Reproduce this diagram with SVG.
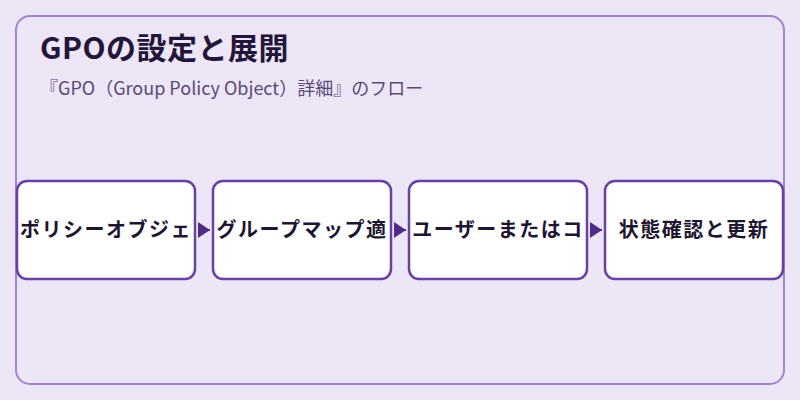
<svg xmlns="http://www.w3.org/2000/svg" width="800" height="400" viewBox="0 0 800 400">
<defs>
<style>
.node rect{fill:#ffffff;stroke:#6a40a3;stroke-width:2.5}
.node text{font-family:"Noto Sans CJK JP","Noto Sans",sans-serif;font-size:20px;font-weight:700;fill:#1e1530;text-anchor:middle;letter-spacing:1.5px}
.conn line{stroke:#4f2d86;stroke-width:2}
</style>
<marker id="ah" viewBox="0 0 12 16" refX="12" refY="8" markerWidth="12" markerHeight="16" markerUnits="userSpaceOnUse" orient="auto">
<path d="M0,0 L12,8 L0,16 Z" fill="#4f2d86"/>
</marker>
</defs>
<rect x="0" y="0" width="800" height="400" fill="#ede6f6"/>
<rect x="16" y="16" width="768" height="368" rx="14" fill="#ede6f6" stroke="#a283d2" stroke-width="2"/>
<text x="40" y="59" font-family="'Noto Sans CJK JP','Noto Sans',sans-serif" font-size="30" font-weight="700" fill="#24163a" letter-spacing="0.5">GPOの設定と展開</text>
<text x="40" y="95" font-family="'Noto Sans CJK JP','Noto Sans',sans-serif" font-size="18" fill="#5a4a78">『GPO（Group Policy Object）詳細』のフロー</text>
<g class="conn">
<line x1="198" y1="230" x2="210" y2="230" marker-end="url(#ah)"/>
<line x1="394" y1="230" x2="406" y2="230" marker-end="url(#ah)"/>
<line x1="590" y1="230" x2="602" y2="230" marker-end="url(#ah)"/>
</g>
<g id="n1" class="node"><rect x="17" y="181" width="178" height="98" rx="10"/><text x="106" y="237">ポリシーオブジェ</text></g>
<g id="n2" class="node"><rect x="213" y="181" width="178" height="98" rx="10"/><text x="302" y="237">グループマップ適</text></g>
<g id="n3" class="node"><rect x="409" y="181" width="178" height="98" rx="10"/><text x="498" y="237">ユーザーまたはコ</text></g>
<g id="n4" class="node"><rect x="605" y="181" width="178" height="98" rx="10"/><text x="694" y="237">状態確認と更新</text></g>
</svg>
